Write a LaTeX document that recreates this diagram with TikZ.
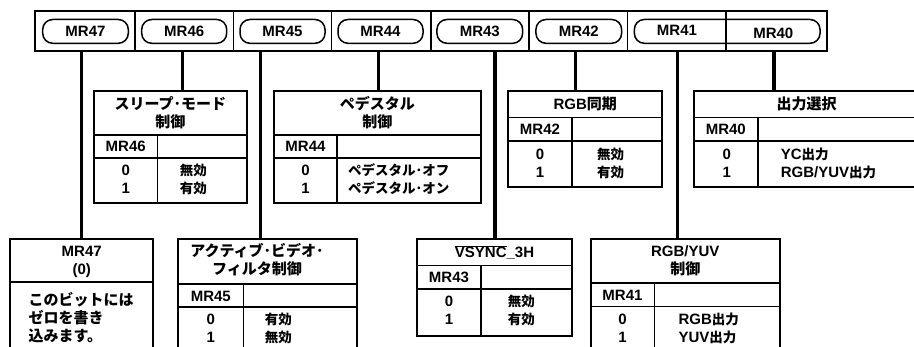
\documentclass[tikz,border=0pt]{standalone}
\usepackage{fontspec}
\setmainfont{Liberation Sans}
\newfontfamily\jp{Noto Sans CJK JP}
\newcommand\J[1]{{\jp\bfseries #1}}
\newcommand\Js[1]{{\jp\bfseries\fontsize{13.5}{18}\selectfont #1}}
\begin{document}
\begin{tikzpicture}[x=1pt,y=-1pt,
  barframe/.style={draw, line width=2pt, inner sep=0pt, outer sep=0pt},
  tbl/.style={draw, line width=2pt, inner sep=0pt, outer sep=0pt, anchor=north west},
  inner/.style={line width=1.6pt},
  conn/.style={line width=3.5pt},
  txt/.style={font=\fontsize{15}{18}\selectfont\bfseries, inner sep=0pt, align=center},
  txtl/.style={txt, align=left, anchor=west},
  pill/.style={txt, draw, line width=1.5pt, rounded corners=10pt, minimum height=23.8pt},
]
\useasboundingbox (0,0) rectangle (914,347);

% register bar
\node[barframe, anchor=north west, minimum width=792pt, minimum height=40pt] (bar) at (34.7,10.7) {};
\node[pill, minimum width=85.6pt] (p47) at (85.5,31.4) {MR47};
\node[pill, minimum width=85pt] (p46) at (184.2,31.4) {MR46};
\node[pill, minimum width=85pt] (p45) at (282.5,31.4) {MR45};
\node[pill, minimum width=85pt] (p44) at (380.5,31.4) {MR44};
\node[pill, minimum width=85.7pt] (p43) at (479.8,31.4) {MR43};
\node[pill, minimum width=85.7pt] (p42) at (578.8,31.4) {MR42};
\node[pill, minimum width=185.7pt] (p4140) at (727.2,31.4) {};
\node[txt] (t41) at (677,30.5) {MR41};
\node[txt] (t40) at (773.3,33) {MR40};
\foreach \x in {135,233.3,331.7,431,529,627.7,726}
  \draw[line width=1.5pt] (\x,10.7) -- (\x,50.7);

\foreach \n/\x in {47/81.7,46/182.3,45/260.7,44/378.3,43/495,42/575.7,41/677.5,40/774}
  \coordinate (k\n) at (\x,50.7);

% MR47 box
\node[tbl, minimum width=143.3pt, minimum height=130pt] (b47) at (10,239.3) {};
\draw[inner] (10,282.3) -- (153.3,282.3);
\node[txt] (h47) at (81.7,261.7) {MR47\\(0)};
\node[txtl] (d47) at (28.3,317.8) {\J{このビットには}\\\J{ゼロを書き}\\\J{込みます。}};

% MR46 box
\node[tbl, minimum width=152.7pt, minimum height=112.6pt] (b46) at (94,90.7) {};
\draw[inner] (94,135) -- (246.7,135);
\draw[inner] (94,158) -- (246.7,158);
\draw[inner] (157.3,135) -- (157.3,203.3);
\node[txt] (h46) at (170.3,113) {\J{スリープ･モード}\\\J{制御}};
\node[txt] (r46) at (125.7,146.7) {MR46};
\node[txt] (z46) at (125.7,179.2) {0\\1};
\node[txt] (v46) at (193.3,179.2) {\Js{無効}\\\Js{有効}};

% MR45 box
\node[tbl, minimum width=178.7pt, minimum height=130pt] (b45) at (178.3,239) {};
\draw[inner] (178.3,284.3) -- (357,284.3);
\draw[inner] (178.3,307.3) -- (357,307.3);
\draw[inner] (243.3,284.3) -- (243.3,369);
\node[txt] (h45) at (257,259.2) {\J{アクティブ･ビデオ･}\\\J{フィルタ制御}};
\node[txt] (r45) at (210.8,296) {MR45};
\node[txt] (z45) at (210.8,328.2) {0\\1};
\node[txt] (v45) at (278.3,328.2) {\Js{有効}\\\Js{無効}};

% MR44 box
\node[tbl, minimum width=206.7pt, minimum height=112.6pt] (b44) at (274,90.7) {};
\draw[inner] (274,135) -- (480.7,135);
\draw[inner] (274,158.3) -- (480.7,158.3);
\draw[inner] (337,135) -- (337,203.3);
\node[txt] (h44) at (377.3,113) {\J{ペデスタル}\\\J{制御}};
\node[txt] (r44) at (305.5,146.7) {MR44};
\node[txt] (z44) at (305.5,179.2) {0\\1};
\node[txtl] (v44) at (348,179.2) {\Js{ペデスタル･オフ}\\\Js{ペデスタル･オン}};

% MR43 box
\node[tbl, minimum width=154.4pt, minimum height=96.7pt] (b43) at (417.3,239) {};
\draw[inner] (417.3,265.7) -- (571.7,265.7);
\draw[inner] (417.3,289) -- (571.7,289);
\draw[inner] (481,265.7) -- (481,335.7);
\node[txt] (h43) at (494.5,252.3) {$\overline{\mbox{VSYNC}}$\_3H};
\node[txt] (r43) at (449,277.3) {MR43};
\node[txt] (z43) at (449,310.5) {0\\1};
\node[txt] (v43) at (521.3,310.5) {\Js{無効}\\\Js{有効}};

% MR42 box
\node[tbl, minimum width=154pt, minimum height=96.3pt] (b42) at (508.3,91) {};
\draw[inner] (508.3,117.7) -- (662.3,117.7);
\draw[inner] (508.3,141) -- (662.3,141);
\draw[inner] (571.7,117.7) -- (571.7,187.3);
\node[txt] (h42) at (585.3,104.3) {RGB\J{同期}};
\node[txt] (r42) at (540,129.3) {MR42};
\node[txt] (z42) at (540,163) {0\\1};
\node[txt] (v42) at (610.5,163) {\Js{無効}\\\Js{有効}};

% MR41 box
\node[tbl, minimum width=189.3pt, minimum height=130pt] (b41) at (590.7,239.3) {};
\draw[inner] (590.7,283.3) -- (780,283.3);
\draw[inner] (590.7,306.7) -- (780,306.7);
\draw[inner] (654.3,283.3) -- (654.3,369);
\node[txt] (h41) at (685.3,260.5) {RGB/YUV\\\J{制御}};
\node[txt] (r41) at (622.5,295) {MR41};
\node[txt] (z41) at (622.5,328) {0\\1};
\node[txtl] (v41) at (678.3,328) {RGB\Js{出力}\\YUV\Js{出力}};

% MR40 box
\node[tbl, minimum width=231pt, minimum height=96.3pt] (b40) at (694,91) {};
\draw[inner] (694,117.7) -- (925,117.7);
\draw[inner] (694,141) -- (925,141);
\draw[inner] (757.7,117.7) -- (757.7,187.3);
\node[txt] (h40) at (806.7,104.3) {\J{出力選択}};
\node[txt] (r40) at (725.8,129.3) {MR40};
\node[txt] (z40) at (726.7,163) {0\\1};
\node[txtl] (v40) at (780.7,163) {YC\Js{出力}\\RGB/YUV\Js{出力}};

% connectors
\foreach \n in {47,46,45,44,43,42,41,40}
  \draw[conn] (k\n) -- (k\n |- b\n.north);
\end{tikzpicture}
\end{document}
